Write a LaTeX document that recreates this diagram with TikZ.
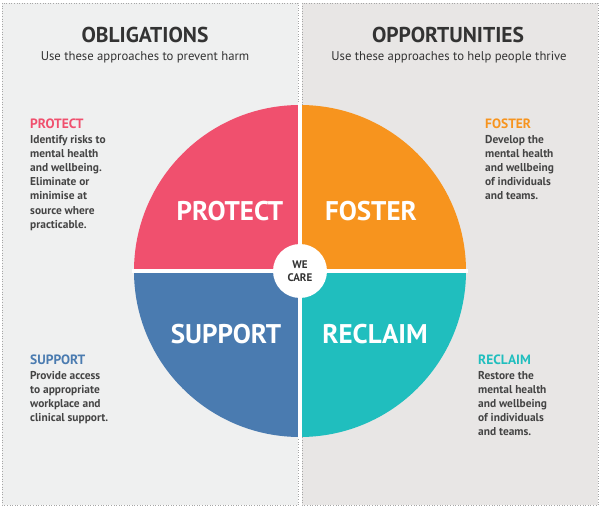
\documentclass[tikz,border=0pt]{standalone}
\usepackage{fontspec}
\setmainfont{PT Sans}
\usepackage{xcolor}
\usetikzlibrary{positioning}

\definecolor{protectc}{HTML}{F0506E}
\definecolor{fosterc}{HTML}{F7941E}
\definecolor{supportc}{HTML}{4A7BB0}
\definecolor{reclaimc}{HTML}{20BEBE}
\definecolor{leftbg}{HTML}{EFF0F0}
\definecolor{rightbg}{HTML}{E8E6E5}
\definecolor{inkc}{HTML}{333333}
\definecolor{bodyc}{HTML}{444444}

\tikzset{
  panel/.style={draw=gray!70, dotted, line width=0.6pt},
  headtxt/.style={font=\bfseries\fontsize{21.5}{23}\selectfont, text=inkc, inner sep=0pt},
  subtxt/.style={font=\fontsize{12.7}{14}\selectfont, text=inkc, inner sep=0pt},
  quadtxt/.style={font=\bfseries\fontsize{27}{29}\selectfont, text=white, inner sep=0pt},
  sidetxt/.style={font=\bfseries\fontsize{11.4}{14.2}\selectfont, text=bodyc, align=left, anchor=north west, inner sep=0pt},
  gap/.style={white, line width=4pt}
}

\begin{document}
\begin{tikzpicture}[x=1pt, y=-1pt]
    \useasboundingbox (0,0) rectangle (600,508);
    % panels
    \filldraw[panel, fill=leftbg] (2,3) rectangle (298,505);
    \filldraw[panel, fill=rightbg] (302,3) rectangle (598,505);

    \node[headtxt] (oblig) at (145,35) {OBLIGATIONS};
    \node[subtxt] (obligsub) at (145,57) {Use these approaches to prevent harm};
    \node[headtxt] (oppor) at (448,35) {OPPORTUNITIES};
    \node[subtxt] (opporsub) at (449,57) {Use these approaches to help people thrive};

    % the wheel
    \coordinate (ctr) at (300,271);
    \fill[protectc] (ctr) -- ++(180:166) arc[start angle=180, end angle=270, radius=166] -- cycle;
    \fill[fosterc] (ctr) -- ++(270:166) arc[start angle=270, end angle=360, radius=166] -- cycle;
    \fill[reclaimc] (ctr) -- ++(0:166) arc[start angle=0, end angle=90, radius=166] -- cycle;
    \fill[supportc] (ctr) -- ++(90:166) arc[start angle=90, end angle=180, radius=166] -- cycle;
    \draw[gap] ([xshift=-168pt]ctr) -- ([xshift=168pt]ctr);
    \draw[gap] ([yshift=168pt]ctr) -- ([yshift=-168pt]ctr);
    \node[circle, fill=white, minimum size=54pt, inner sep=0pt, align=center,
          font=\bfseries\fontsize{11}{13}\selectfont, text=inkc] (wecare) at (ctr) {WE\\CARE};

    \node[quadtxt] (protect) at (230,211) {PROTECT};
    \node[quadtxt] (foster) at (371,211) {FOSTER};
    \node[quadtxt] (support) at (226,334) {SUPPORT};
    \node[quadtxt] (reclaim) at (375,334) {RECLAIM};

    % side notes
    \node[sidetxt] (protnote) at (30,119) {{\color{protectc}\fontsize{13.5}{14}\selectfont PROTECT}\\
      Identify risks to\\mental health\\and wellbeing.\\Eliminate or\\minimise at\\source where\\practicable.};
    \node[sidetxt] (fostnote) at (485,119) {{\color{fosterc}\fontsize{13.5}{14}\selectfont FOSTER}\\
      Develop the\\mental health\\and wellbeing\\of individuals\\and teams.};
    \node[sidetxt] (suppnote) at (30,355) {{\color{supportc}\fontsize{13.5}{14}\selectfont SUPPORT}\\
      Provide access\\to appropriate\\workplace and\\clinical support.};
    \node[sidetxt] (reclnote) at (478,355) {{\color{reclaimc}\fontsize{13.5}{14}\selectfont RECLAIM}\\
      Restore the\\mental health\\and wellbeing\\of individuals\\and teams.};
\end{tikzpicture}
\end{document}
